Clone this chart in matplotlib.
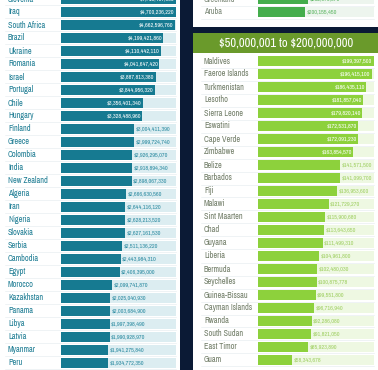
import matplotlib.pyplot as plt
from matplotlib import font_manager as fm
from matplotlib.patches import Rectangle

# left column: $1B+ tier (cut off at both ends in the crop)
LEFT_NAMES = ['Slovenia', 'Iraq', 'South Africa', 'Brazil', 'Ukraine', 'Romania',
              'Israel', 'Portugal', 'Chile', 'Hungary', 'Finland', 'Greece',
              'Colombia', 'India', 'New Zealand', 'Algeria', 'Iran', 'Nigeria',
              'Slovakia', 'Serbia', 'Cambodia', 'Egypt', 'Morocco', 'Kazakhstan',
              'Panama', 'Libya', 'Latvia', 'Myanmar', 'Peru']
LEFT_VALUES = [4718407660, 4700236220, 4662596760, 4199421860, 4110442110,
               4041647420, 3887813380, 3844956320, 3356401340, 3328488960,
               3004411390, 2999724740, 2926295070, 2918894340, 2898067330,
               2666630560, 2644116120, 2628213520, 2627161530, 2511136220,
               2443984310, 2406395000, 2099741870, 2025040930, 2003684900,
               1997398490, 1990928970, 1941275840, 1934772350]

# top of right column: tail of the previous tier
TOP_NAMES = ['Greenland', 'Aruba']
TOP_VALUES = [212370870, 200155450]

# right column: $50,000,001 to $200,000,000 tier
RIGHT_TITLE = '$50,000,001 to $200,000,000'
RIGHT_NAMES = ['Maldives', 'Faeroe Islands', 'Turkmenistan', 'Lesotho',
               'Sierra Leone', 'Eswatini', 'Cape Verde', 'Zimbabwe', 'Belize',
               'Barbados', 'Fiji', 'Malawi', 'Sint Maarten', 'Chad', 'Guyana',
               'Liberia', 'Bermuda', 'Seychelles', 'Guinea-Bissau',
               'Cayman Islands', 'Rwanda', 'South Sudan', 'East Timor', 'Guam']
RIGHT_VALUES = [199397500, 196415100, 186435110, 181857040, 179820140,
                172531870, 172091230, 163854570, 141571500, 141099700,
                136953600, 121729270, 115900680, 113643650, 111499310,
                104961800, 102480030, 100875778, 99551800, 96716940,
                92286080, 91821050, 85923890, 58343678]

W, H = 378, 370
NAVY = '#0b1a35'

# the original uses a tall condensed face; take a narrow one if there is one
FAMILY, STRETCH, SCALE = 'Roboto', 'normal', 0.82
for f in fm.fontManager.ttflist:
    if 'Narrow' in f.name or 'Condensed' in f.name:
        FAMILY, STRETCH, SCALE = f.name, 'normal', 1.0
        break
    if f.name == 'DejaVu Sans' and f.stretch == 'condensed':
        FAMILY, STRETCH, SCALE = 'DejaVu Sans', 'condensed', 0.85
plt.rcParams['font.family'] = [FAMILY, 'DejaVu Sans']
plt.rcParams['font.stretch'] = STRETCH


def px_rect(x0, y0, x1, y1):
    """figure-fraction [left, bottom, width, height] from pixel box"""
    return [x0 / W, 1 - y1 / H, (x1 - x0) / W, (y1 - y0) / H]


def draw_rows(fig, box, names, values, xmax, first_y, y_top, y_bot,
              name_x, colors, inside_min=None):
    bar_c, track_c, name_c, out_c = colors
    ax = fig.add_axes(px_rect(box[0], y_top, box[1], y_bot))
    ax.set_xlim(0, xmax)
    step = 13.0
    ax.set_ylim((y_bot - first_y) / step, (y_top - first_y) / step)
    ax.axis('off')
    ys = list(range(len(values)))
    ax.barh(ys, [xmax] * len(values), height=0.72, color=track_c, zorder=1)
    ax.barh(ys, values, height=0.72, color=bar_c, zorder=2)
    trans = ax.get_yaxis_transform()
    name_ax = (name_x - box[0]) / (box[1] - box[0])
    pad = xmax * 0.012
    for y, n, v in zip(ys, names, values):
        ax.text(name_ax, y, n, transform=trans, ha='left', va='center',
                fontsize=5.9 * SCALE, fontweight='bold', color=name_c,
                clip_on=False, parse_math=False)
        ax.plot([name_ax - 0.03, 1.0], [y + 0.5, y + 0.5], transform=trans,
                color='#e4ebee', lw=0.4, zorder=0, clip_on=False)
        lab = '${:,}'.format(v)
        if inside_min is not None and v >= inside_min:
            ax.text(v - pad, y, lab, ha='right', va='center',
                    fontsize=4.4 * SCALE, fontweight='bold', color='white',
                    zorder=3, clip_on=False, parse_math=False)
        else:
            ax.text(v + pad, y, lab, ha='left', va='center',
                    fontsize=4.4 * SCALE, fontweight='bold', color=out_c,
                    zorder=3, clip_on=False, parse_math=False)
    return ax


fig = plt.figure(figsize=(W / 100, H / 100), dpi=100, facecolor=NAVY)

# panel backgrounds
for x0, y0, x1, y1, c in [(0, -5, 180, 375, 'white'),
                          (193, -5, 378, 27, 'white'),
                          (193, 33, 378, 53, '#6a9a2b'),
                          (193, 53, 378, 375, 'white')]:
    fig.patches.append(Rectangle((x0 / W, 1 - y1 / H), (x1 - x0) / W,
                                 (y1 - y0) / H, transform=fig.transFigure,
                                 facecolor=c, edgecolor='none', zorder=-5))

fig.text(286 / W, 1 - 43.5 / H, RIGHT_TITLE, ha='center', va='center',
         fontsize=9.0 * SCALE, fontweight='bold', color='white',
         parse_math=False)

draw_rows(fig, (61, 176), LEFT_NAMES, LEFT_VALUES, 4.72e9, -1, 0, H, 8,
          ('#167a91', '#dcedf1', '#1d7c93', '#2a8aa0'), inside_min=3.1e9)

draw_rows(fig, (258, 374), TOP_NAMES, TOP_VALUES, 4.9e8, -1, 0, 27, 204,
          ('#44ad4c', '#edf5ee', '#7a8776', '#5bb561'))

draw_rows(fig, (258, 374), RIGHT_NAMES, RIGHT_VALUES, 2.0e8, 61, 53, H, 204,
          ('#8dd13c', '#eef8e2', '#707c66', '#9fcf62'), inside_min=1.5e8)

fig.savefig('out.png', dpi=100, facecolor=NAVY)
